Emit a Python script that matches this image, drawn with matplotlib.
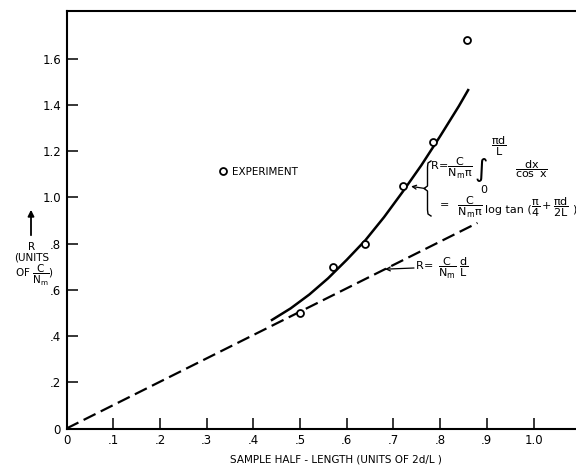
import matplotlib
matplotlib.use("Agg")
import matplotlib.pyplot as plt
from matplotlib.lines import Line2D

# experiment points (sample half-length, R)
exp_x = [0.50, 0.57, 0.64, 0.72, 0.785, 0.857]
exp_y = [0.50, 0.70, 0.80, 1.05, 1.24, 1.68]

# solid curve: R = C/(Nm pi) log tan(pi/4 + pi d/2L)
curve_x = [0.44, 0.48, 0.52, 0.56, 0.60, 0.64, 0.68, 0.72, 0.76, 0.80, 0.84, 0.86]
curve_y = [0.47, 0.52, 0.58, 0.65, 0.73, 0.815, 0.915, 1.025, 1.14, 1.265, 1.395, 1.465]

# dashed straight line R = C/Nm d/L
line_x = [0.0, 0.88]
line_y = [0.0, 0.89]

xticks = [0, 0.1, 0.2, 0.3, 0.4, 0.5, 0.6, 0.7, 0.8, 0.9, 1.0]
xticklabels = ['0', '.1', '.2', '.3', '.4', '.5', '.6', '.7', '.8', '.9', '1.0']
yticks = [0, 0.2, 0.4, 0.6, 0.8, 1.0, 1.2, 1.4, 1.6]
yticklabels = ['0', '.2', '.4', '.6', '.8', '1.0', '1.2', '1.4', '1.6']

plt.rcParams['font.family'] = ['DejaVu Sans']
plt.rcParams['mathtext.fontset'] = 'dejavusans'
plt.rcParams['mathtext.default'] = 'regular'

W, H = 576, 466


def fpx(x, y):
    # pixel position (from top-left) -> figure fraction
    return x / W, 1 - y / H


fig = plt.figure(figsize=(W / 100, H / 100), dpi=100)
ax = fig.add_axes([66.5 / W, 37.5 / H, (600 - 66.5) / W, (428.5 - 10.7) / H])
ax.set_xlim(0, (600 - 66.5) / 467)
ax.set_ylim(0, (428.5 - 10.7) / 231)

for s in ax.spines.values():
    s.set_linewidth(1.5)

ax.set_xticks(xticks)
ax.set_xticklabels(xticklabels)
ax.set_yticks(yticks)
ax.set_yticklabels(yticklabels)
ax.tick_params(direction='in', length=8, width=1.1, labelsize=8.5, pad=4)

ax.plot(line_x, line_y, color='black', lw=1.6, ls=(0, (6, 2.6)))
ax.plot(curve_x, curve_y, color='black', lw=1.8)
ax.plot(exp_x, exp_y, 'o', ls='none', mfc='white', mec='black', ms=5,
        mew=1.3, label='EXPERIMENT', zorder=5)

ax.legend(loc='center left', bbox_to_anchor=(0.285, 0.614), frameon=False,
          handlelength=0.8, handletextpad=0.5, borderpad=0, borderaxespad=0,
          prop={'size': 7.5})

ax.set_xlabel('SAMPLE HALF - LENGTH (UNITS OF 2d/L )', fontsize=7.5)
ax.xaxis.set_label_coords(0.505, -0.063)

# y axis label with arrow
ax.annotate('', xy=fpx(31, 207), xytext=fpx(31, 238), xycoords='figure fraction',
            textcoords='figure fraction',
            arrowprops=dict(arrowstyle='-|>', lw=1.3, color='black', mutation_scale=9))
fig.text(*fpx(32, 252), 'R\n(UNITS', fontsize=7.5, ha='center', va='center',
         linespacing=1.1)
fig.text(*fpx(35, 275), r'OF $\dfrac{C}{N_m}$)', fontsize=7.5, ha='center', va='center')

# brace and formula for the solid curve
bx = [431, 428, 427.5, 427.5, 424, 427.5, 427.5, 428, 431]
by = [161, 163, 167, 186, 188.5, 191, 210, 214, 216]
fig.add_artist(Line2D([fpx(a, b)[0] for a, b in zip(bx, by)],
                      [fpx(a, b)[1] for a, b in zip(bx, by)],
                      color='black', lw=1.0))
ax.annotate('', xy=(exp_x[3] + 0.012, exp_y[3]), xycoords='data',
            xytext=fpx(425, 188.5), textcoords='figure fraction',
            arrowprops=dict(arrowstyle='->', lw=0.9, color='black', mutation_scale=7,
                            shrinkA=0, shrinkB=2))
fs = 8
fig.text(*fpx(430, 168), r'$R\!=\!\dfrac{C}{N_m\pi}$', fontsize=fs, ha='left', va='center')
fig.text(*fpx(481, 170), r'$\int$', fontsize=13, ha='center', va='center')
fig.text(*fpx(499, 146), r'$\dfrac{\pi d}{L}$', fontsize=fs, ha='center', va='center')
fig.text(*fpx(484, 190), '0', fontsize=fs, ha='center', va='center')
fig.text(*fpx(531, 169), r'$\dfrac{dx}{\cos\ x}$', fontsize=fs, ha='center', va='center')
fig.text(*fpx(437, 207), r'$=\ \ \dfrac{C}{N_m\pi}$', fontsize=fs, ha='left', va='center')
fig.text(*fpx(485, 210), 'log tan (', fontsize=fs, ha='left', va='center')
fig.text(*fpx(531, 207), r'$\dfrac{\pi}{4}+\dfrac{\pi d}{2L}$', fontsize=fs,
         ha='left', va='center')
fig.text(*fpx(572, 210), ')', fontsize=fs, ha='left', va='center')

# label for the dashed line
arrow_x = 0.682
ax.annotate('', xy=(arrow_x, arrow_x * line_y[1] / line_x[1]), xycoords='data',
            xytext=fpx(414, 268), textcoords='figure fraction',
            arrowprops=dict(arrowstyle='->', lw=0.9, color='black', mutation_scale=7,
                            shrinkA=0, shrinkB=0))
fig.text(*fpx(415, 268), r'$R\!=\ \dfrac{C}{N_m}\ \dfrac{d}{L}$', fontsize=fs,
         ha='left', va='center')

fig.savefig('out.png', dpi=100)
